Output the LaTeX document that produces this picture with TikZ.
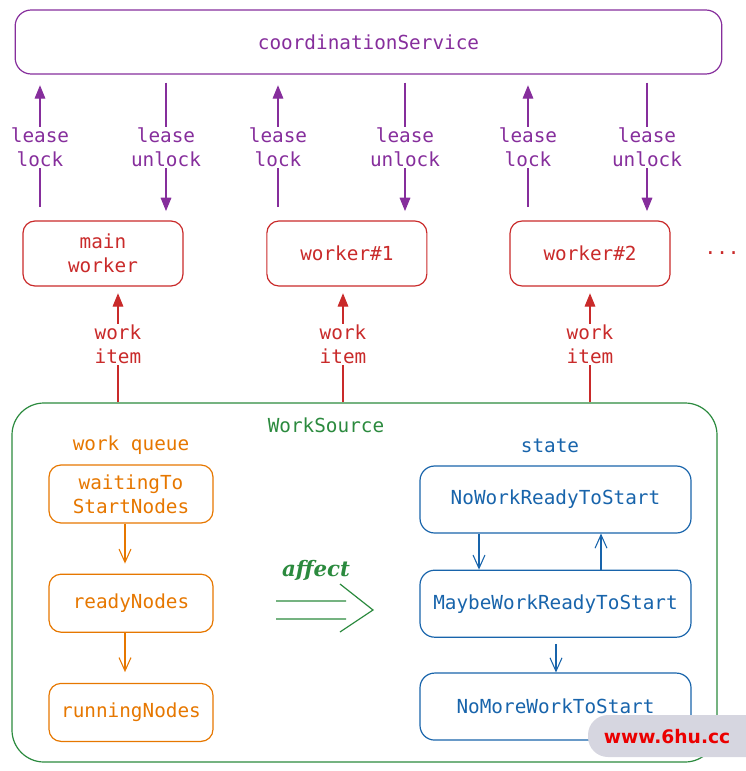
\documentclass[tikz,border=0pt]{standalone}
\usepackage{fontspec}
\setmonofont{DejaVu Sans Mono}
\newfontfamily\affectfont{DejaVu Serif}
\newfontfamily\markfont{DejaVu Sans}
\usetikzlibrary{arrows.meta,positioning}
\definecolor{exgrape}{HTML}{862E9C}
\definecolor{exred}{HTML}{C92A2A}
\definecolor{exgreen}{HTML}{2B8A3E}
\definecolor{exorange}{HTML}{E67700}
\definecolor{exblue}{HTML}{1864AB}
\definecolor{markgray}{RGB}{214,214,224}
\definecolor{markred}{RGB}{235,0,0}
\tikzstyle{svcbox} = [rectangle,rounded corners=12pt,minimum width=530pt,minimum height=48pt,draw=exgrape,line width=0.9pt,text=exgrape]
\tikzstyle{workerbox} = [rectangle,rounded corners=9pt,minimum width=120pt,minimum height=48.75pt,draw=exred,line width=0.9pt,text=exred,align=center]
\tikzstyle{sourcebox} = [rectangle,rounded corners=24pt,minimum width=528.75pt,minimum height=269.25pt,draw=exgreen,line width=0.9pt]
\tikzstyle{queuebox} = [rectangle,rounded corners=9pt,minimum width=123pt,minimum height=43.5pt,draw=exorange,line width=0.9pt,text=exorange,align=center]
\tikzstyle{statebox} = [rectangle,rounded corners=11pt,minimum width=203.25pt,minimum height=50.25pt,draw=exblue,line width=0.9pt,text=exblue]
\tikzstyle{leasearrow} = [exgrape,line width=0.8pt,-{Triangle[length=10pt,width=8pt]}]
\tikzstyle{itemarrow} = [exred,line width=0.8pt,-{Triangle[length=10pt,width=8pt]}]
\tikzstyle{queuearrow} = [exorange,line width=0.8pt,-{Straight Barb[length=10pt,width=9pt]}]
\tikzstyle{statearrow} = [exblue,line width=0.8pt,-{Straight Barb[length=10pt,width=9pt]}]
\tikzstyle{arrowlabel} = [fill=white,inner sep=1pt,align=center]

\begin{document}
\begin{tikzpicture}[x=0.75pt,y=-0.75pt]
\tikzstyle{every node}=[font=\ttfamily\fontsize{14.5}{18}\selectfont]
\useasboundingbox (0,0) rectangle (746,771);

\node (svc) [svcbox] at (368.5,42) {coordinationService};

\node (mainw) [workerbox] at (103,253.5) {main\\worker};
\node (w1) [workerbox,right=62pt of mainw] {worker\#1};
\node (w2) [workerbox,right=61.5pt of w1] {worker\#2};
\node (more) [text=exred,right=22pt of w2] {...};

% lease arrows, x positions
\coordinate (l0) at (40,0);
\coordinate (l1) at (278,0);
\coordinate (l2) at (528,0);
\coordinate (u0) at (166,0);
\coordinate (u1) at (405,0);
\coordinate (u2) at (647,0);

\draw[leasearrow,shorten <=10pt,shorten >=8pt] (mainw.north -| l0) -- node[arrowlabel] {lease\\lock} (svc.south -| l0);
\draw[leasearrow,shorten <=6pt,shorten >=7pt] (svc.south -| u0) -- node[arrowlabel] {lease\\unlock} (mainw.north -| u0);
\draw[leasearrow,shorten <=10pt,shorten >=8pt] (w1.north -| l1) -- node[arrowlabel] {lease\\lock} (svc.south -| l1);
\draw[leasearrow,shorten <=6pt,shorten >=7pt] (svc.south -| u1) -- node[arrowlabel] {lease\\unlock} (w1.north -| u1);
\draw[leasearrow,shorten <=10pt,shorten >=8pt] (w2.north -| l2) -- node[arrowlabel] {lease\\lock} (svc.south -| l2);
\draw[leasearrow,shorten <=6pt,shorten >=7pt] (svc.south -| u2) -- node[arrowlabel] {lease\\unlock} (w2.north -| u2);

\node (src) [sourcebox] at (364.5,582.5) {};
\node (srclabel) [text=exgreen] at (326,425) {WorkSource};

% work items
\coordinate (i0) at (118,0);
\coordinate (i1) at (343,0);
\coordinate (i2) at (590,0);
\draw[itemarrow,shorten >=5pt] (src.north -| i0) -- node[arrowlabel] {work\\item} (mainw.south -| i0);
\draw[itemarrow,shorten >=5pt] (src.north -| i1) -- node[arrowlabel] {work\\item} (w1.south -| i1);
\draw[itemarrow,shorten >=5pt] (src.north -| i2) -- node[arrowlabel] {work\\item} (w2.south -| i2);

\node (queue) [text=exorange] at (131,445) {work queue};
\node (wait) [queuebox] at (131,494) {waitingTo\\StartNodes};
\node (ready) [queuebox,below=37.5pt of wait] {readyNodes};
\node (run) [queuebox,below=37.5pt of ready] {runningNodes};

\coordinate (q0) at (125,0);
\draw[queuearrow,shorten >=7.5pt] (wait.south -| q0) -- (ready.north -| q0);
\draw[queuearrow,shorten >=8pt] (ready.south -| q0) -- (run.north -| q0);

\node (affect) [text=exgreen,font=\affectfont\itshape\bfseries\fontsize{16}{18}\selectfont] at (316,570) {affect};
\draw[exgreen,line width=0.9pt] (276,601) -- (346,601) (276,619) -- (346,619) (340,584) -- (373,610) -- (340,632);

\node (state) [text=exblue] at (550,446) {state};
\node (nowork) [statebox] at (555.5,499.5) {NoWorkReadyToStart};
\node (maybe) [statebox,below=27pt of nowork] {MaybeWorkReadyToStart};
\node (nomore) [statebox,below=26pt of maybe] {NoMoreWorkToStart};

\coordinate (s0) at (479,0);
\coordinate (s1) at (601,0);
\coordinate (s2) at (556,0);
\draw[statearrow] (nowork.south -| s0) -- (maybe.north -| s0);
\draw[statearrow] (maybe.north -| s1) -- (nowork.south -| s1);
\draw[statearrow,shorten <=4.5pt] (maybe.south -| s2) -- (nomore.north -| s2);

% watermark
\fill[markgray,rounded corners=15pt] (588,715) rectangle (775,757);
\node (mark) [text=markred,font=\markfont\bfseries\fontsize{14}{16}\selectfont] at (667,737) {www.6hu.cc};
\end{tikzpicture}
\end{document}
